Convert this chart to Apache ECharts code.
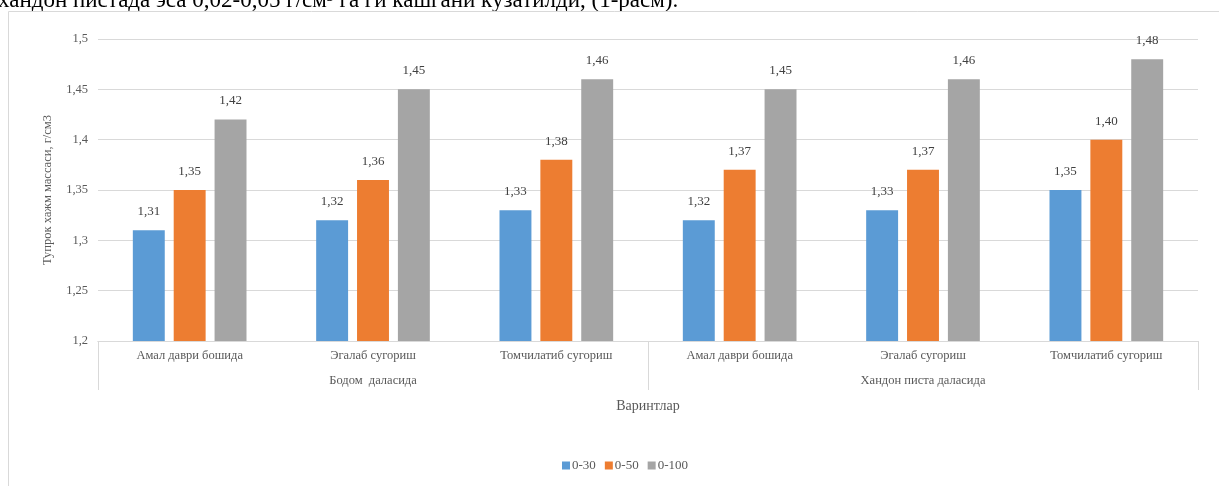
<!DOCTYPE html>
<html>
<head>
<meta charset="utf-8">
<script src="https://cdn.jsdelivr.net/npm/echarts@6/dist/echarts.min.js"></script>
<style>
  html, body { margin: 0; padding: 0; background: #fff; }
  #chart { width: 1219px; height: 486px; }
</style>
</head>
<body>
<div id="chart"></div>
<script>
// варинтлар ва гуруҳлар
const categories = ['Амал даври бошида', 'Эгалаб сугориш', 'Томчилатиб сугориш',
                    'Амал даври бошида', 'Эгалаб сугориш', 'Томчилатиб сугориш'];
const groups = ['Бодом  даласида', 'Хандон писта даласида'];
const seriesNames = ['0-30', '0-50', '0-100'];
const values030 = [1.31, 1.32, 1.33, 1.32, 1.33, 1.35];
const values050 = [1.35, 1.36, 1.38, 1.37, 1.37, 1.40];
const values0100 = [1.42, 1.45, 1.46, 1.45, 1.46, 1.48];
const colors = ['#5b9bd5', '#ed7d31', '#a5a5a5'];

const FONT = '"Liberation Serif", "Times New Roman", serif';
const comma = v => String(v).replace('.', ',');

const myChart = echarts.init(document.getElementById('chart'));

const makeSeries = (name, data, i) => ({
  name: name,
  type: 'bar',
  xAxisIndex: 0,
  data: data,
  barGap: '28%',
  barCategoryGap: '38%',
  itemStyle: { color: colors[i] },
  label: {
    show: true,
    position: 'top',
    distance: 12,
    fontFamily: FONT,
    fontSize: 13,
    color: '#404040',
    formatter: p => p.value.toFixed(2).replace('.', ',')
  }
});

const option = {
  animation: false,
  textStyle: { fontFamily: FONT },
  graphic: [
    {
      type: 'text',
      left: -2,
      top: -11,
      silent: true,
      style: {
        text: 'хандон пистада эса 0,02-0,05 г/см³ га ги кашгани кузатилди, (1-расм).',
        font: '23px ' + FONT,
        fill: '#000'
      }
    },
    {
      type: 'rect',
      silent: true,
      shape: { x: 8.5, y: 11.5, width: 1300, height: 600 },
      style: { fill: 'none', stroke: '#d9d9d9', lineWidth: 1 }
    }
  ],
  grid: { left: 98, right: 21, top: 39, bottom: 145 },
  legend: {
    data: seriesNames,
    left: 557,
    top: 454,
    icon: 'rect',
    itemWidth: 8,
    itemHeight: 8,
    itemGap: 9,
    textStyle: { fontFamily: FONT, fontSize: 13, color: '#595959', padding: [0, 0, 0, -3] }
  },
  xAxis: [
    {
      type: 'category',
      data: categories,
      axisLine: { lineStyle: { color: '#d9d9d9' } },
      axisTick: { show: false },
      axisLabel: { margin: 8, fontFamily: FONT, fontSize: 12.5, color: '#595959', interval: 0 }
    },
    {
      type: 'category',
      data: groups,
      position: 'bottom',
      axisLine: { lineStyle: { color: '#d9d9d9' } },
      axisTick: { show: true, length: 49, lineStyle: { color: '#d9d9d9' } },
      axisLabel: { margin: 33, fontFamily: FONT, fontSize: 12.5, color: '#595959' },
      name: 'Варинтлар',
      nameLocation: 'middle',
      nameGap: 58,
      nameMoveOverlap: false,
      nameTextStyle: { fontFamily: FONT, fontSize: 14, color: '#595959' }
    }
  ],
  yAxis: {
    type: 'value',
    min: 1.2,
    max: 1.5,
    interval: 0.05,
    axisLine: { show: false },
    axisTick: { show: false },
    splitLine: { lineStyle: { color: '#d9d9d9' } },
    axisLabel: {
      margin: 10,
      fontFamily: FONT,
      fontSize: 12.5,
      color: '#595959',
      formatter: v => comma(+v.toFixed(2))
    },
    name: 'Тупрок хажм массаси, г/см3',
    nameLocation: 'middle',
    nameGap: 44,
    nameTextStyle: { fontFamily: FONT, fontSize: 12.5, color: '#595959' }
  },
  series: [
    makeSeries(seriesNames[0], values030, 0),
    makeSeries(seriesNames[1], values050, 1),
    makeSeries(seriesNames[2], values0100, 2)
  ]
};

myChart.setOption(option);
window.addEventListener('resize', () => myChart.resize());
</script>
</body>
</html>
